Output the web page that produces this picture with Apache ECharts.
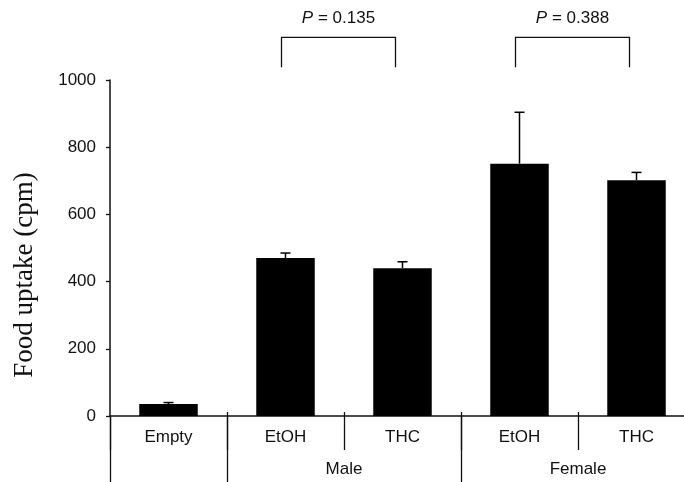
<!DOCTYPE html>
<html>
<head>
<meta charset="utf-8">
<script src="https://cdn.jsdelivr.net/npm/echarts@6/dist/echarts.min.js"></script>
<style>html,body{margin:0;padding:0;background:#fff;overflow:hidden;}#chart{width:695px;height:482px;}</style>
</head>
<body>
<div id="chart"></div>
<script>
// ---- data ----
var categories = ['Empty', 'EtOH', 'THC', 'EtOH', 'THC'];
var uptake = [36, 470, 440, 751, 702];
var uptakeErr = [4, 15, 19, 153, 23];
var groups = ['Male', 'Female'];
var groupMembers = [[1, 2], [3, 4]];
var comparisons = [[1, 2], [3, 4]];
var pValues = ['0.135', '0.388'];
var bracketTop = [1127, 1127];
var bracketBottom = [1038, 1038];
var yTicks = [0, 200, 400, 600, 800, 1000];
var yTitle = 'Food uptake (cpm)';

var INK = '#111';
var SANS = '"Liberation Sans", Arial, Helvetica, sans-serif';
var SERIF = '"Liberation Serif", "Times New Roman", serif';

// group centre / boundaries in category-index units
var groupCenters = groupMembers.map(function (g) { return (g[0] + g[g.length - 1]) / 2; });
var groupBounds = [-0.5].concat(groupMembers.map(function (g) { return g[0] - 0.5; }));
var innerBounds = [];
for (var i = 0; i < categories.length - 1; i++) innerBounds.push(i + 0.5);

var chart = echarts.init(document.getElementById('chart'));
var option = {
  animation: false,
  grid: { left: 110, top: 80, right: 0, bottom: 66, containLabel: false },
  xAxis: [
    {
      type: 'category', data: categories, position: 'bottom',
      axisLine: { show: true, onZero: false, lineStyle: { color: INK, width: 1.5 } },
      axisTick: { show: true, interval: 0, length: 34, lineStyle: { color: INK, width: 1.3 } },
      axisLabel: { interval: 0, color: INK, fontSize: 17, fontFamily: SANS, margin: 13 },
      splitLine: { show: false }
    },
    {
      type: 'value', min: -0.5, max: 4.5, position: 'bottom',
      axisLine: { show: false, onZero: false },
      axisTick: { show: true, length: 66, customValues: groupBounds, lineStyle: { color: INK, width: 1.3 } },
      axisLabel: {
        show: true, customValues: groupCenters, color: INK, fontSize: 17, fontFamily: SANS, margin: 45,
        formatter: function (v) {
          var k = groupCenters.indexOf(v);
          return k >= 0 ? groups[k] : '';
        }
      },
      splitLine: { show: false }
    },
    {
      type: 'value', min: -0.5, max: 4.5, position: 'bottom',
      axisLine: { show: false, onZero: false },
      axisTick: { show: true, inside: true, length: 4, customValues: innerBounds, lineStyle: { color: INK, width: 1.3 } },
      axisLabel: { show: false },
      splitLine: { show: false }
    }
  ],
  yAxis: {
    type: 'value', min: 0, max: 1000, interval: 200, position: 'left',
    axisLine: { show: true, onZero: false, lineStyle: { color: INK, width: 1.5 } },
    axisTick: { show: true, length: 4, lineStyle: { color: INK, width: 1.3 } },
    axisLabel: { color: INK, fontSize: 17, fontFamily: SANS, margin: 14,
      formatter: function (v) { return yTicks.indexOf(v) >= 0 ? String(v) : ''; } },
    splitLine: { show: false }
  },
  graphic: [{
    type: 'text', x: 25, y: 275, rotation: Math.PI / 2,
    style: { text: yTitle, fill: INK, fontSize: 27, fontFamily: SERIF, align: 'center', verticalAlign: 'middle' }
  }],
  series: [
    {
      type: 'bar', data: uptake, barWidth: '50%', xAxisIndex: 0,
      itemStyle: { color: '#000' }, z: 2
    },
    {
      type: 'custom', xAxisIndex: 0, z: 3,
      data: uptake.map(function (v, i) { return [i, v, uptakeErr[i]]; }),
      renderItem: function (params, api) {
        var i = api.value(0), v = api.value(1), e = api.value(2);
        var p0 = api.coord([i, v]);
        var p1 = api.coord([i, v + e]);
        var cap = 5;
        var st = { stroke: '#000', lineWidth: 1.5 };
        return {
          type: 'group', children: [
            { type: 'line', shape: { x1: p0[0], y1: p0[1], x2: p1[0], y2: p1[1] }, style: st },
            { type: 'line', shape: { x1: p1[0] - cap, y1: p1[1], x2: p1[0] + cap, y2: p1[1] }, style: st }
          ]
        };
      }
    },
    {
      type: 'custom', xAxisIndex: 0, z: 3, clip: false,
      data: comparisons.map(function (c, k) { return [c[0], c[1], bracketTop[k], bracketBottom[k], k]; }),
      renderItem: function (params, api) {
        var a = api.value(0), b = api.value(1), t = api.value(2), bt = api.value(3), k = api.value(4);
        var pa = api.coord([a, t]), pb = api.coord([b, t]), pab = api.coord([a, bt]);
        var xl = pa[0] - 4, xr = pb[0] - 7, yt = pa[1], yb = pab[1];
        var st = { stroke: INK, lineWidth: 1.3, fill: null };
        return {
          type: 'group', children: [
            { type: 'polyline', shape: { points: [[xl, yb], [xl, yt], [xr, yt], [xr, yb]] }, style: st },
            { type: 'text', x: (xl + xr) / 2, y: yt - 19,
              style: { text: '{i|P} = ' + pValues[k], fill: INK, fontSize: 17, fontFamily: SANS,
                align: 'center', verticalAlign: 'middle',
                rich: { i: { fontStyle: 'italic', fontSize: 17, fontFamily: SANS, fill: INK } } } }
          ]
        };
      }
    }
  ]
};
chart.setOption(option);
</script>
</body>
</html>
